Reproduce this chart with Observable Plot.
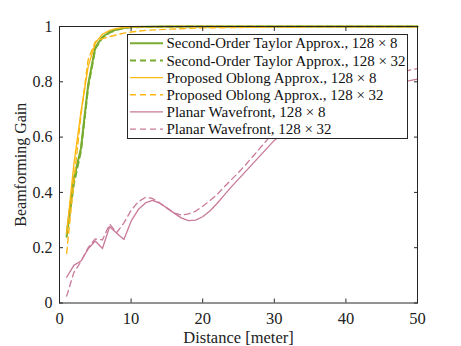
<!DOCTYPE html>
<html>
<head>
<meta charset="utf-8">
<script src="https://cdn.jsdelivr.net/npm/d3@7"></script>
<script src="https://cdn.jsdelivr.net/npm/@observablehq/plot@0.6"></script>
<style>
  html, body { margin: 0; padding: 0; background: #fff; }
  #chart svg { display: block; }
</style>
</head>
<body>
<div id="chart"></div>
<script>
const xTicks = [0, 10, 20, 30, 40, 50];
const yTicks = [0, 0.2, 0.4, 0.6, 0.8, 1];

const seriesNames = [
  "Second-Order Taylor Approx., 128 × 8",
  "Second-Order Taylor Approx., 128 × 32",
  "Proposed Oblong Approx., 128 × 8",
  "Proposed Oblong Approx., 128 × 32",
  "Planar Wavefront, 128 × 8",
  "Planar Wavefront, 128 × 32"
];

const dNear = [1, 2, 3, 4, 5, 6, 7, 8, 9, 10, 12, 15, 20, 30, 40, 50];
const taylor8  = [0.25, 0.45, 0.56, 0.79, 0.925, 0.962, 0.98, 0.99, 0.995, 0.998, 0.999, 1, 1, 1, 1, 1];
const taylor32 = [0.24, 0.43, 0.55, 0.78, 0.92, 0.96, 0.978, 0.988, 0.994, 0.997, 0.998, 0.999, 1, 1, 1, 1];
const oblong8  = [0.25, 0.50, 0.69, 0.855, 0.94, 0.972, 0.986, 0.993, 0.996, 0.998, 0.999, 1, 1, 1, 1, 1];
const oblong32 = [0.18, 0.44, 0.68, 0.88, 0.945, 0.956, 0.963, 0.97, 0.976, 0.98, 0.986, 0.99, 0.995, 0.998, 0.999, 0.999];

const dFar = [1, 2, 3, 4, 5, 6, 7, 8, 9, 10, 11, 12, 13, 14, 15, 16, 17, 18, 19, 20, 21, 22, 23, 24, 25, 26, 27, 28, 29, 30, 32, 35, 40, 45, 50];
const planar8  = [0.093, 0.136, 0.152, 0.196, 0.224, 0.197, 0.276, 0.252, 0.23, 0.296, 0.338, 0.362, 0.371, 0.361, 0.344, 0.325, 0.308, 0.298, 0.300, 0.312, 0.333, 0.36, 0.39, 0.42, 0.448, 0.476, 0.504, 0.532, 0.56, 0.588, 0.63, 0.68, 0.74, 0.785, 0.81];
const planar32 = [0.025, 0.11, 0.15, 0.2, 0.232, 0.228, 0.285, 0.255, 0.29, 0.335, 0.366, 0.382, 0.378, 0.362, 0.343, 0.326, 0.318, 0.322, 0.332, 0.35, 0.37, 0.392, 0.42, 0.446, 0.472, 0.5, 0.53, 0.56, 0.59, 0.62, 0.66, 0.72, 0.78, 0.82, 0.848];

const green = "#77AC30", yellow = "#FDB813", pink = "#C9799A";
const styles = [
  {color: green, width: 2, dash: null},
  {color: green, width: 2, dash: "6,4"},
  {color: yellow, width: 1.4, dash: null},
  {color: yellow, width: 1.4, dash: "6,4"},
  {color: pink, width: 1.3, dash: null},
  {color: pink, width: 1.3, dash: "6,4"}
];

const toRows = (xs, ys) => xs.map((d, i) => ({d, g: ys[i]}));
const seriesData = [
  toRows(dNear, taylor8), toRows(dNear, taylor32),
  toRows(dNear, oblong8), toRows(dNear, oblong32),
  toRows(dFar, planar8), toRows(dFar, planar32)
];

const font = "'Liberation Serif', 'Times New Roman', serif";
const axisColor = "#262626";

const lineMarks = seriesData.map((rows, i) => Plot.line(rows, {
  x: "d", y: "g",
  stroke: styles[i].color,
  strokeWidth: styles[i].width,
  strokeDasharray: styles[i].dash || undefined
}));

const chart = Plot.plot({
  width: 461,
  height: 346,
  marginLeft: 59,
  marginRight: 44,
  marginTop: 26,
  marginBottom: 43.5,
  style: {fontFamily: font, fontSize: "15px", color: axisColor, background: "#fff"},
  x: {domain: [0, 50]},
  y: {domain: [0, 1]},
  marks: [
    ...lineMarks,
    Plot.frame({stroke: axisColor, strokeWidth: 1}),
    Plot.axisX({anchor: "bottom", ticks: xTicks, tickSize: -4, tickPadding: 13, tickFormat: d => String(d),
      label: "Distance [meter]", labelAnchor: "center", labelArrow: "none", labelOffset: 40, fontSize: 16.5, stroke: axisColor, fill: "#222"}),
    Plot.axisX({anchor: "top", ticks: xTicks, tickSize: -4, tickFormat: () => "", label: null, stroke: axisColor}),
    Plot.axisY({anchor: "left", ticks: yTicks, tickSize: -4, tickPadding: 11, tickFormat: d => String(d),
      label: "Beamforming Gain", labelAnchor: "center", labelArrow: "none", labelOffset: 45, fontSize: 16, stroke: axisColor, fill: "#222"}),
    Plot.axisY({anchor: "right", ticks: yTicks, tickSize: -4, tickFormat: () => "", label: null, stroke: axisColor})
  ]
});

document.getElementById("chart").appendChild(chart);

// Legend box inside the plot area
const legendTextWidths = [231, 239, 210, 217, 159, 165];
const svg = d3.select(chart);
const lg = svg.append("g").attr("font-family", font).attr("font-size", 14.8).attr("text-anchor", "start");
const box = {x: 127.5, y: 34.5, w: 280, h: 104};
lg.append("rect").attr("x", box.x).attr("y", box.y).attr("width", box.w).attr("height", box.h)
  .attr("fill", "#fff").attr("stroke", axisColor).attr("stroke-width", 1);
seriesNames.forEach((name, i) => {
  const cy = 43.3 + 17.15 * i;
  lg.append("line").attr("x1", 130).attr("x2", 163).attr("y1", cy).attr("y2", cy)
    .attr("stroke", styles[i].color).attr("stroke-width", styles[i].width)
    .attr("stroke-dasharray", styles[i].dash);
  lg.append("text").attr("x", 166.5).attr("y", cy).attr("dy", "0.35em")
    .attr("text-anchor", "start").attr("fill", "#111")
    .attr("textLength", legendTextWidths[i]).attr("lengthAdjust", "spacingAndGlyphs")
    .text(name);
});
</script>
</body>
</html>
